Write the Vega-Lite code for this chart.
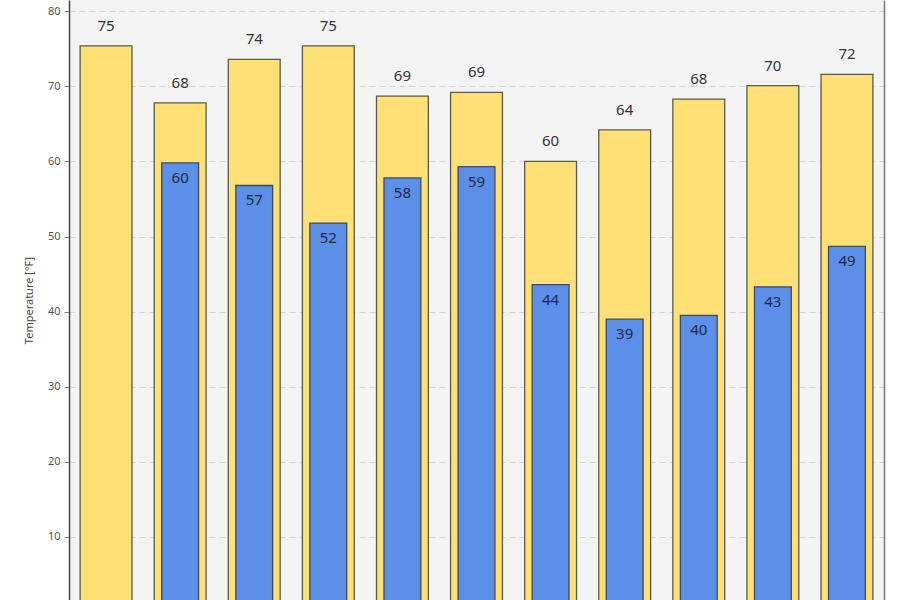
{
  "$schema": "https://vega.github.io/schema/vega-lite/v6.json",
  "autosize": {"type": "none"},
  "padding": {"left": 69, "right": 16, "top": 0, "bottom": 0},
  "width": 815,
  "height": 600,
  "background": "white",
  "config": {
    "view": {"fill": "#f3f3f4", "stroke": null},
    "font": "Noto Sans"
  },
  "data": {
    "values": [
      {"cat": "1", "high": 75.4, "low": null},
      {"cat": "2", "high": 67.8, "low": 59.8},
      {"cat": "3", "high": 73.6, "low": 56.8},
      {"cat": "4", "high": 75.4, "low": 51.8},
      {"cat": "5", "high": 68.7, "low": 57.8},
      {"cat": "6", "high": 69.2, "low": 59.3},
      {"cat": "7", "high": 60.0, "low": 43.6},
      {"cat": "8", "high": 64.2, "low": 39.0},
      {"cat": "9", "high": 68.3, "low": 39.5},
      {"cat": "10", "high": 70.1, "low": 43.3},
      {"cat": "11", "high": 71.6, "low": 48.7}
    ]
  },
  "resolve": {"axis": {"y": "independent"}},
  "encoding": {
    "x": {
      "field": "cat", "type": "nominal", "sort": null,
      "scale": {"paddingInner": 0.3, "paddingOuter": 0.15},
      "axis": null
    }
  },
  "layer": [
    {
      "mark": {"type": "bar", "color": "#ffe074", "stroke": "#5a5a4a", "strokeWidth": 1.3, "clip": true},
      "encoding": {
        "y": {
          "field": "high", "type": "quantitative",
          "scale": {"domain": [1.6, 81.5], "nice": false, "zero": false},
          "axis": {
            "title": "Temperature [°F]", "titleFont": "Noto Sans", "titleFontSize": 11, "titleFontWeight": "normal",
            "titleColor": "#444", "titlePadding": 13,
            "values": [10, 20, 30, 40, 50, 60, 70, 80],
            "labelFontSize": 11, "labelColor": "#555", "labelPadding": 4,
            "tickSize": 5, "tickColor": "#888",
            "domainColor": "#444", "domainWidth": 1.5,
            "grid": true, "gridColor": "#d4d4d4", "gridDash": [6, 4], "gridWidth": 1
          }
        },
        "y2": {"datum": 0}
      }
    },
    {
      "mark": {"type": "bar", "color": "#5b8fe8", "stroke": "#3a4a6a", "strokeWidth": 1.3, "clip": true, "width": {"band": 0.71}},
      "encoding": {
        "y": {
          "field": "low", "type": "quantitative",
          "axis": {"orient": "right", "title": null, "labels": false, "ticks": false, "grid": false, "domainColor": "#777", "domainWidth": 1.5}
        },
        "y2": {"datum": 0}
      }
    },
    {
      "mark": {"type": "text", "baseline": "middle", "dy": -20, "fontSize": 15, "color": "#333"},
      "encoding": {
        "y": {"field": "high", "type": "quantitative", "axis": null},
        "text": {"field": "high", "type": "quantitative", "format": ".0f"}
      }
    },
    {
      "transform": [{"filter": "datum.low != null"}],
      "mark": {"type": "text", "baseline": "middle", "dy": 15, "fontSize": 15, "color": "#1f2a44"},
      "encoding": {
        "y": {"field": "low", "type": "quantitative", "axis": null},
        "text": {"field": "low", "type": "quantitative", "format": ".0f"}
      }
    }
  ]
}
